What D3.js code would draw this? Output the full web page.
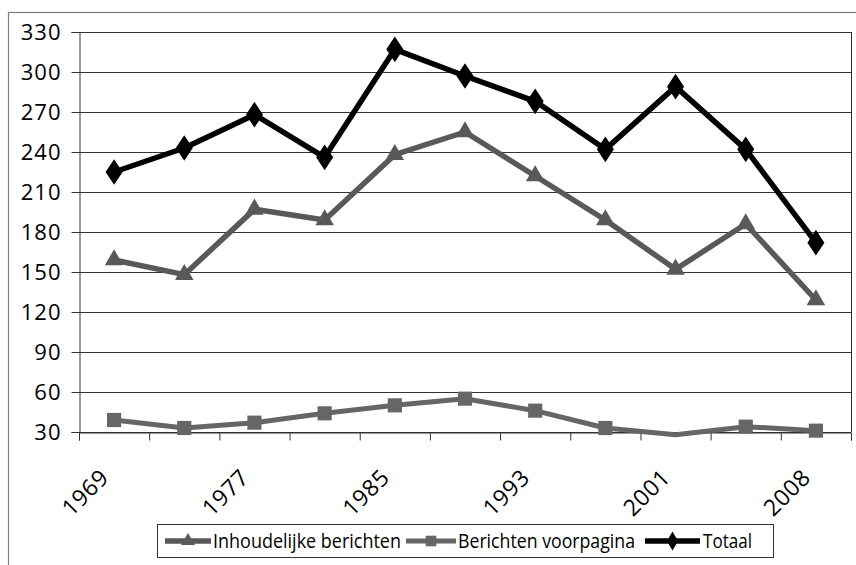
<!DOCTYPE html>
<html>
<head>
<meta charset="utf-8">
<script src="https://cdn.jsdelivr.net/npm/d3@7/dist/d3.min.js"></script>
<style>
  html, body { margin: 0; padding: 0; background: #fff; }
  svg { display: block; }
  text { font-family: "Open Sans", "DejaVu Sans", sans-serif; fill: #000; }
</style>
</head>
<body>
<svg id="chart" width="856" height="565"></svg>
<script>
const years = ["1969","1973","1977","1981","1985","1989","1993","1997","2001","2005","2008"];
const shownYears = ["1969","1977","1985","1993","2001","2008"];
const inhoudelijke = [159, 148, 197, 189, 238, 255, 222, 189, 152, 186, 129];
const voorpagina = [39, 33, 37, 44, 50, 55, 46, 33, 28, 34, 31];
const totaal = [225, 243, 268, 236, 317, 297, 278, 242, 289, 242, 172];
const yTicks = [30, 60, 90, 120, 150, 180, 210, 240, 270, 300, 330];
const seriesNames = ["Inhoudelijke berichten", "Berichten voorpagina", "Totaal"];

const svg = d3.select("#chart");

// outer chart border (extends beyond the visible window)
svg.append("rect")
  .attr("x", 8.5).attr("y", 12.5).attr("width", 900).attr("height", 600)
  .attr("fill", "none").attr("stroke", "#808080").attr("stroke-width", 1.2);

const plot = { left: 79, right: 851, top: 32, bottom: 432 };

const x = d3.scaleBand().domain(years).range([plot.left, plot.right]).padding(0);
const xb = d3.scaleLinear().domain([0, years.length]).range([plot.left, plot.right]);
const y = d3.scaleLinear().domain([30, 330]).range([plot.bottom, plot.top]);
const cx = d => x(d) + x.bandwidth() / 2;

// gridlines
svg.append("g")
  .selectAll("line")
  .data(yTicks)
  .join("line")
  .attr("x1", plot.left).attr("x2", plot.right)
  .attr("y1", d => Math.round(y(d)) + 0.5).attr("y2", d => Math.round(y(d)) + 0.5)
  .attr("stroke", "#333").attr("stroke-width", 1);

// right border of plot area
svg.append("line")
  .attr("x1", plot.right + 0.5).attr("x2", plot.right + 0.5)
  .attr("y1", plot.top).attr("y2", plot.bottom)
  .attr("stroke", "#333");

// y axis
const yAxis = svg.append("g")
  .attr("transform", `translate(${plot.left + 0.5},0)`)
  .call(d3.axisLeft(y).tickValues(yTicks).tickSize(8).tickPadding(10).tickFormat(d3.format("d")));
yAxis.select(".domain").attr("stroke", "#333");
yAxis.selectAll(".tick line").attr("stroke", "#333");
yAxis.selectAll("text")
  .attr("font-family", "'Open Sans', sans-serif")
  .attr("font-size", 22)
  .attr("letter-spacing", 1)
  .attr("fill", "#000");

// x axis: ticks at category boundaries
const xAxis = svg.append("g")
  .attr("transform", `translate(0,${plot.bottom + 0.5})`)
  .call(d3.axisBottom(xb).tickValues(d3.range(years.length + 1)).tickSize(8).tickFormat(""));
xAxis.select(".domain").attr("stroke", "#333");
xAxis.selectAll(".tick line").attr("stroke", "#333");

// x labels (every second category)
const xLab = svg.append("g")
  .attr("transform", `translate(0,${plot.bottom})`)
  .call(d3.axisBottom(x).tickSize(0).tickFormat(d => shownYears.includes(d) ? d : ""));
xLab.select(".domain").remove();
xLab.selectAll("text")
  .attr("font-family", "'Open Sans', sans-serif")
  .attr("font-size", 23)
  .attr("letter-spacing", 0.5)
  .attr("fill", "#000")
  .attr("text-anchor", "end")
  .attr("x", 0).attr("y", 0).attr("dy", 0)
  .attr("transform", "translate(-4,47) rotate(-45)");

// series
const series = [
  { name: seriesNames[0], values: inhoudelijke, color: "#595959", width: 5.5, marker: "triangle" },
  { name: seriesNames[1], values: voorpagina, color: "#666666", width: 5, marker: "square" },
  { name: seriesNames[2], values: totaal, color: "#000000", width: 5.5, marker: "diamond" }
];

const symbolFor = m => {
  if (m === "triangle") return d3.symbol().type(d3.symbolTriangle).size(150)();
  if (m === "square") return d3.symbol().type(d3.symbolSquare).size(200)();
  return d3.symbol().type(d3.symbolDiamond).size(190)();
};

const line = d3.line().x((d, i) => cx(years[i])).y(d => y(d));

series.forEach(s => {
  const g = svg.append("g");
  g.append("path")
    .datum(s.values)
    .attr("d", line)
    .attr("fill", "none")
    .attr("stroke", s.color)
    .attr("stroke-width", s.width)
    .attr("stroke-linejoin", "round");
  g.selectAll("path.mk")
    .data(s.values.map((v, i) => ({ v, year: years[i] })).filter(d => d.v >= 30))
    .join("path")
    .attr("class", "mk")
    .attr("d", symbolFor(s.marker))
    .attr("transform", d => `translate(${cx(d.year)},${y(d.v)})${s.marker === "diamond" ? " scale(1.15,1)" : ""}`)
    .attr("fill", s.color);
});

// legend
const legend = svg.append("g");
legend.append("rect")
  .attr("x", 157.5).attr("y", 524.5).attr("width", 616).attr("height", 33)
  .attr("fill", "#fff").attr("stroke", "#333");

const legendItems = [
  { s: series[0], lx: 165, lw: 46, tx: 213, tw: 188 },
  { s: series[1], lx: 406, lw: 50, tx: 458, tw: 177 },
  { s: series[2], lx: 645, lw: 55, tx: 703, tw: 49 }
];
legendItems.forEach(it => {
  const ly = 541;
  legend.append("line")
    .attr("x1", it.lx).attr("x2", it.lx + it.lw)
    .attr("y1", ly).attr("y2", ly)
    .attr("stroke", it.s.color).attr("stroke-width", it.s.width);
  legend.append("path")
    .attr("d", symbolFor(it.s.marker))
    .attr("transform", `translate(${it.lx + it.lw / 2},${ly}) scale(0.75)`)
    .attr("fill", it.s.color);
  legend.append("text")
    .attr("x", it.tx).attr("y", ly + 7)
    .attr("font-size", 20)
    .attr("textLength", it.tw)
    .attr("lengthAdjust", "spacingAndGlyphs")
    .text(it.s.name);
});
</script>
</body>
</html>
